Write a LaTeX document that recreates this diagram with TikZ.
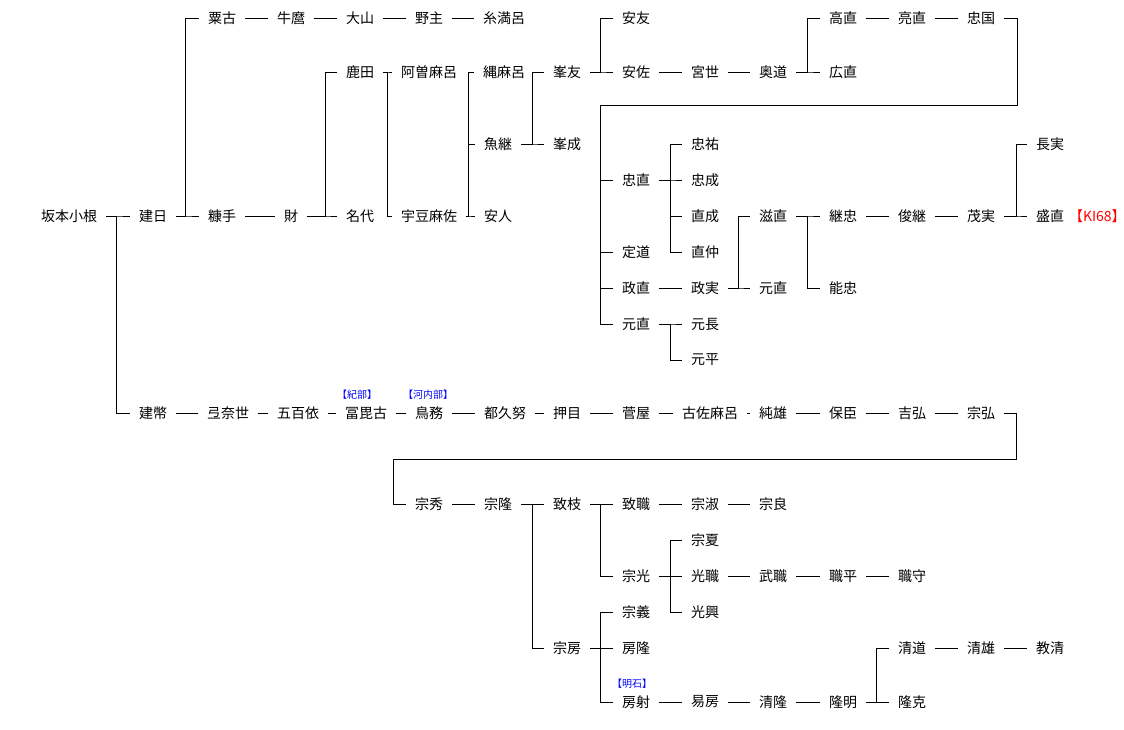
\documentclass[tikz,border=0pt]{standalone}
\usepackage{fontspec}
\setmainfont{Noto Sans CJK JP}
\begin{document}
\begin{tikzpicture}[x=1pt,y=-1pt,line width=1pt,
    every node/.style={inner sep=0pt,outer sep=9pt,font=\fontsize{14}{16}\selectfont},
    tag/.style={font=\fontsize{10}{11}\selectfont,text=blue}]
  \useasboundingbox (0,0) rectangle (1124,729);
  \draw (69,216) node (a4) {坂本小根};
  \draw (153,216) node (b4) {建日};
  \draw (153,413) node (b9) {建幣};
  \draw (222,18) node (c0) {粟古};
  \draw (291,18) node (d0) {牛麿};
  \draw (360,18) node (e0) {大山};
  \draw (429,18) node (f0) {野主};
  \draw (504,18) node (g0) {糸満呂};
  \draw (222,216) node (c4) {糠手};
  \draw (291,216) node (d4) {財};
  \draw (360,72) node (e1) {鹿田};
  \draw (360,216) node (e4) {名代};
  \draw (429,72) node (f1) {阿曽麻呂};
  \draw (429,216) node (f4) {宇豆麻佐};
  \draw (504,72) node (g1) {縄麻呂};
  \draw (498,144) node (g2) {魚継};
  \draw (498,216) node (g4) {安人};
  \draw (567,72) node (h1) {峯友};
  \draw (567,144) node (h2) {峯成};
  \draw (636,18) node (i0) {安友};
  \draw (636,72) node (i1) {安佐};
  \draw (705,72) node (j1) {宮世};
  \draw (773,72) node (k1) {奥道};
  \draw (843,18) node (l0) {高直};
  \draw (843,72) node (l1) {広直};
  \draw (912,18) node (m0) {亮直};
  \draw (981,18) node (n0) {忠国};
  \draw (636,180) node (i3) {忠直};
  \draw (636,252) node (i5) {定道};
  \draw (636,288) node (i6) {政直};
  \draw (636,324) node (i7) {元直};
  \draw (705,144) node (j2) {忠祐};
  \draw (705,180) node (j3) {忠成};
  \draw (705,216) node (j4) {直成};
  \draw (705,252) node (j5) {直仲};
  \draw (705,288) node (j6) {政実};
  \draw (705,324) node (j7) {元長};
  \draw (705,360) node (j8) {元平};
  \draw (773,216) node (k4) {滋直};
  \draw (773,288) node (k6) {元直};
  \draw (843,216) node (l4) {継忠};
  \draw (843,288) node (l6) {能忠};
  \draw (912,216) node (m4) {俊継};
  \draw (981,216) node (n4) {茂実};
  \draw (1050,144) node (o2) {長実};
  \draw (1050,216) node (o4) {盛直};
  \draw (1069,216) node[anchor=west,outer sep=0pt,text=red] (ki) {【KI68】};
  % 建幣 line
  \draw (228,413) node (c9) {弖奈世};
  \draw (298,413) node (d9) {五百依};
  \draw (366,413) node (e9) {冨毘古};
  \draw (429,413) node (f9) {鳥務};
  \draw (505,413) node (g9) {都久努};
  \draw (567,413) node (h9) {押目};
  \draw (636,413) node (i9) {菅屋};
  \draw (710,413) node (j9) {古佐麻呂};
  \draw (773,413) node (k9) {純雄};
  \draw (843,413) node (l9) {保臣};
  \draw (912,413) node (m9) {吉弘};
  \draw (981,413) node (n9) {宗弘};
  \draw (357,395) node[tag] (kibe) {【紀部】};
  \draw (428,395) node[tag] (kawachi) {【河内部】};
  \draw (429,504) node (f10) {宗秀};
  \draw (498,504) node (g10) {宗隆};
  \draw (567,504) node (h10) {致枝};
  \draw (636,504) node (i10) {致職};
  \draw (705,504) node (j10) {宗淑};
  \draw (773,504) node (k10) {宗良};
  \draw (705,540) node (j11) {宗夏};
  \draw (636,576) node (i12) {宗光};
  \draw (705,576) node (j12) {光職};
  \draw (773,576) node (k12) {武職};
  \draw (843,576) node (l12) {職平};
  \draw (912,576) node (m12) {職守};
  \draw (636,612) node (i13) {宗義};
  \draw (705,612) node (j13) {光興};
  \draw (567,648) node (h14) {宗房};
  \draw (636,648) node (i14) {房隆};
  \draw (912,648) node (m14) {清道};
  \draw (981,648) node (n14) {清雄};
  \draw (1050,648) node (o14) {教清};
  \draw (632,684) node[tag] (akashi) {【明石】};
  \draw (636,702) node (i15) {房射};
  \draw (705,702) node (j15) {易房};
  \draw (773,702) node (k15) {清隆};
  \draw (843,702) node (l15) {隆明};
  \draw (912,702) node (m15) {隆克};
  % single lines
  \foreach \a/\b in {c0/d0,d0/e0,e0/f0,f0/g0,c4/d4,i1/j1,j1/k1,l0/m0,m0/n0,
      i6/j6,l4/m4,m4/n4,b9/c9,c9/d9,d9/e9,e9/f9,f9/g9,g9/h9,h9/i9,i9/j9,
      j9/k9,k9/l9,l9/m9,m9/n9,f10/g10,i10/j10,j10/k10,j12/k12,k12/l12,
      l12/m12,i15/j15,j15/k15,k15/l15,m14/n14,n14/o14}
    \draw (\a) -- (\b);
  % brackets
  \coordinate (ta4) at (116,216);
  \coordinate (tb4) at (185,216);
  \coordinate (td4) at (325,216);
  \coordinate (te1) at (387,72);
  \coordinate (tf4) at (468,216);
  \coordinate (tg2) at (532,144);
  \coordinate (th1) at (600,72);
  \coordinate (tk1) at (807,72);
  \coordinate (ti3) at (670,180);
  \coordinate (tj6) at (738,288);
  \coordinate (tk4) at (807,216);
  \coordinate (tn4) at (1016,216);
  \coordinate (ti7) at (670,324);
  \coordinate (tg10) at (532,504);
  \coordinate (th10) at (600,504);
  \coordinate (ti12) at (670,576);
  \coordinate (th14) at (600,648);
  \coordinate (tl15) at (876,702);
  \foreach \p/\cs in {a4/{b4,b9},b4/{c0,c4},d4/{e1,e4},e1/{f1,f4},
      f4/{g1,g2,g4},g2/{h1,h2},h1/{i0,i1},k1/{l0,l1},i3/{j2,j3,j4,j5},
      j6/{k4,k6},k4/{l4,l6},n4/{o2,o4},i7/{j7,j8},g10/{h10,h14},
      h10/{i10,i12},i12/{j11,j12,j13},h14/{i13,i14,i15},l15/{m14,m15}}
    \foreach \c in \cs
      \draw (\p) -- (t\p) |- (\c);
  % long returns
  \coordinate (tn0) at (1017,105);
  \coordinate (tn0b) at (600,105);
  \draw (n0) -| (tn0) -- (tn0b);
  \foreach \c in {i3,i5,i6,i7}
    \draw (tn0b) |- (\c);
  \coordinate (tn9) at (1016,459);
  \coordinate (tn9b) at (393,459);
  \draw (n9) -| (tn9) -- (tn9b) |- (f10);
\end{tikzpicture}
\end{document}
